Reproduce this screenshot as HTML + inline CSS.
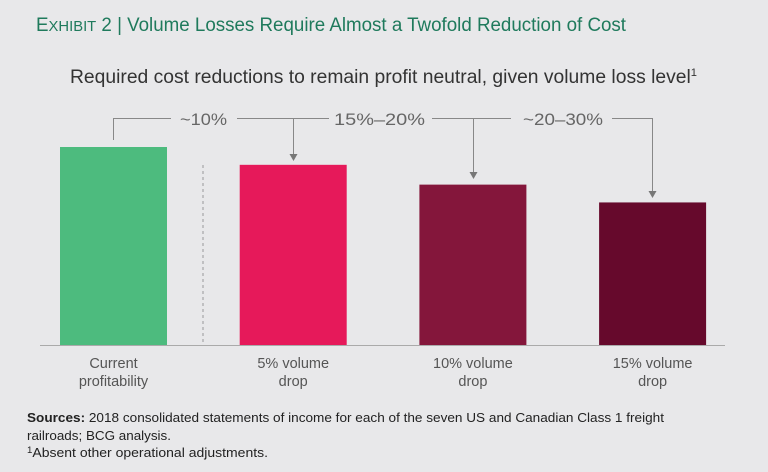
<!DOCTYPE html>
<html><head><meta charset="utf-8"><style>
html,body{margin:0;padding:0;background:#e8e8ea;}
svg{display:block;font-family:"Liberation Sans",sans-serif;}
</style></head><body>
<svg width="768" height="472" viewBox="0 0 768 472">
<rect width="768" height="472" fill="#e8e8ea"/>
<text x="36" y="31" font-size="19" fill="#1f7a5c" textLength="590" lengthAdjust="spacingAndGlyphs">E<tspan font-size="15">XHIBIT</tspan> 2 | Volume Losses Require Almost a Twofold Reduction of Cost</text>
<text x="70" y="83" font-size="19" fill="#333" textLength="627" lengthAdjust="spacingAndGlyphs">Required cost reductions to remain profit neutral, given volume loss level<tspan font-size="11" dy="-7">1</tspan></text>
<g id="bars"></g>
<line x1="40" y1="345.5" x2="725" y2="345.5" stroke="#aaa" stroke-width="1"/>
<line x1="203" y1="165" x2="203" y2="345" stroke="#999" stroke-dasharray="3,3"/>
<g stroke="#888" stroke-width="1" fill="none">
<polyline points="113.5,140 113.5,118.5 171,118.5"/>
<line x1="237" y1="118.5" x2="329" y2="118.5"/>
<polyline points="293.5,118.5 293.5,156"/>
<line x1="432" y1="118.5" x2="511" y2="118.5"/>
<polyline points="473.5,118.5 473.5,174"/>
<polyline points="612,118.5 652.5,118.5 652.5,193"/>
</g>
<g fill="#777">
<polygon points="289.5,154 297.5,154 293.5,161"/>
<polygon points="469.5,172 477.5,172 473.5,179"/>
<polygon points="648.5,191 656.5,191 652.5,198"/>
</g>
<g font-size="17" fill="#666">
<text x="180" y="125" textLength="47" lengthAdjust="spacingAndGlyphs">~10%</text>
<text x="334" y="125" textLength="91" lengthAdjust="spacingAndGlyphs">15%–20%</text>
<text x="523" y="125" textLength="80" lengthAdjust="spacingAndGlyphs">~20–30%</text>
</g>
<g id="cats" font-size="14.5" fill="#555" text-anchor="middle"></g>
<text x="27" y="422" font-size="13" fill="#222" textLength="637" lengthAdjust="spacingAndGlyphs"><tspan font-weight="bold">Sources:</tspan> 2018 consolidated statements of income for each of the seven US and Canadian Class 1 freight</text>
<text x="27" y="440" font-size="13" fill="#222" textLength="144" lengthAdjust="spacingAndGlyphs">railroads; BCG analysis.</text>
<text x="27" y="457" font-size="13" fill="#222" textLength="241" lengthAdjust="spacingAndGlyphs"><tspan font-size="9" dy="-4">1</tspan><tspan dy="4">Absent other operational adjustments.</tspan></text>
</svg>
<script>
const categories = ["Current|profitability","5% volume|drop","10% volume|drop","15% volume|drop"];
const values = [100, 91, 81, 72];
const colors = ["#4dbb7e","#e6195a","#84163b","#66092c"];
const NS="http://www.w3.org/2000/svg";
const baseY=345, scaleK=1.98, x0=60, step=179.7, bw=107;
function xPos(i){return x0+i*step;}
function yPos(v){return baseY-v*scaleK;}
const gb=document.getElementById('bars'), gc=document.getElementById('cats');
values.forEach((v,i)=>{
  const r=document.createElementNS(NS,'rect');
  r.setAttribute('x',xPos(i));r.setAttribute('y',yPos(v));
  r.setAttribute('width',bw);r.setAttribute('height',baseY-yPos(v));
  r.setAttribute('fill',colors[i]);
  
  
  gb.appendChild(r);
  categories[i].split('|').forEach((line,j)=>{
    const t=document.createElementNS(NS,'text');
    t.setAttribute('x',xPos(i)+bw/2);t.setAttribute('y',368+j*18);
    t.textContent=line;
    
    
    gc.appendChild(t);
  });
});
</script>
</body></html>
